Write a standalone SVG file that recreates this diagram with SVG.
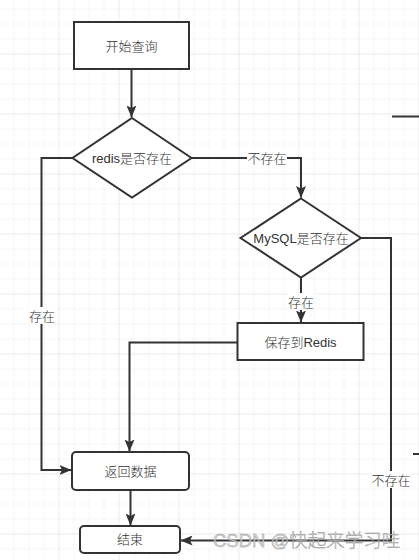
<svg xmlns="http://www.w3.org/2000/svg" width="419" height="560" viewBox="0 0 419 560">
<defs>
<pattern id="minor" x="13.5" y="8.5" width="15" height="15" patternUnits="userSpaceOnUse">
<path d="M0 0H15M0 0V15" fill="none" stroke="#efefef" stroke-width="1"/>
</pattern>
<pattern id="major" x="58.5" y="53.5" width="60" height="60" patternUnits="userSpaceOnUse">
<path d="M0 0H60M0 0V60" fill="none" stroke="#e2e2e2" stroke-width="1"/>
</pattern>
<marker id="arr" viewBox="0 0 12 10" refX="11.5" refY="5" markerWidth="12" markerHeight="10" markerUnits="userSpaceOnUse" orient="auto">
<path d="M0 0L12 5L0 10L2.5 5Z" fill="#333"/>
</marker>
</defs>
<style>
.node{fill:#fff;stroke:#333;stroke-width:2}
.t{font-family:"Liberation Sans","Noto Sans CJK SC",sans-serif;font-size:13px;font-weight:300;fill:#333;text-anchor:middle;dominant-baseline:central}
.edge{fill:none;stroke:#333;stroke-width:2}
.lbl{fill:#fff}
</style>
<rect width="419" height="560" fill="#fff"/>
<rect width="419" height="560" fill="url(#minor)"/>
<rect width="419" height="560" fill="url(#major)"/>

<g id="connectors">
<path class="edge" d="M131.5 69V117" marker-end="url(#arr)"/>
<path class="edge" d="M72.5 158H41.5V470H71" marker-end="url(#arr)"/>
<path class="edge" d="M191.5 158H301V197.5" marker-end="url(#arr)"/>
<path class="edge" d="M301 278V322" marker-end="url(#arr)"/>
<path class="edge" d="M237 342.5H129.5V451" marker-end="url(#arr)"/>
<path class="edge" d="M130.5 490V525" marker-end="url(#arr)"/>
<path class="edge" d="M361 238H391V540.5H181" marker-end="url(#arr)"/>
<path class="edge" d="M392 116.5H419"/>
<path class="edge" d="M413 454H419"/>
<rect class="lbl" x="29" y="307" width="26" height="17"/>
<text class="t" x="42" y="316">存在</text>
<rect class="lbl" x="247" y="150" width="40" height="17"/>
<text class="t" x="267" y="158">不存在</text>
<rect class="lbl" x="288" y="293" width="26" height="17"/>
<text class="t" x="301" y="302">存在</text>
<rect class="lbl" x="371" y="471" width="40" height="17"/>
<text class="t" x="391" y="480">不存在</text>
</g>

<g id="start">
<rect class="node" x="74" y="22" width="115" height="47"/>
<text class="t" x="131.5" y="46">开始查询</text>
</g>
<g id="redis-check">
<path class="node" d="M132 118L191.5 158L132 197.5L72.5 158Z"/>
<text class="t" x="132" y="158">redis是否存在</text>
</g>
<g id="mysql-check">
<path class="node" d="M301 198.5L361 238L301 277.5L240.5 238Z"/>
<text class="t" x="301" y="238">MySQL是否存在</text>
</g>
<g id="save-redis">
<rect class="node" x="237.5" y="323" width="126" height="37"/>
<text class="t" x="300.5" y="342">保存到Redis</text>
</g>
<g id="return-data">
<rect class="node" x="72" y="452" width="117" height="38" rx="4"/>
<text class="t" x="130.5" y="471">返回数据</text>
</g>
<g id="end">
<rect class="node" x="80" y="526" width="100" height="27" rx="4"/>
<text class="t" x="130" y="539.5">结束</text>
</g>

<text x="213" y="547" font-family="'Liberation Sans','Noto Sans CJK SC',sans-serif" font-size="18.5" font-weight="300" fill="#d0d0d0" fill-opacity="0.8" stroke="#8a8a8a" stroke-width="0.35">CSDN @快起来学习哇</text>
</svg>
